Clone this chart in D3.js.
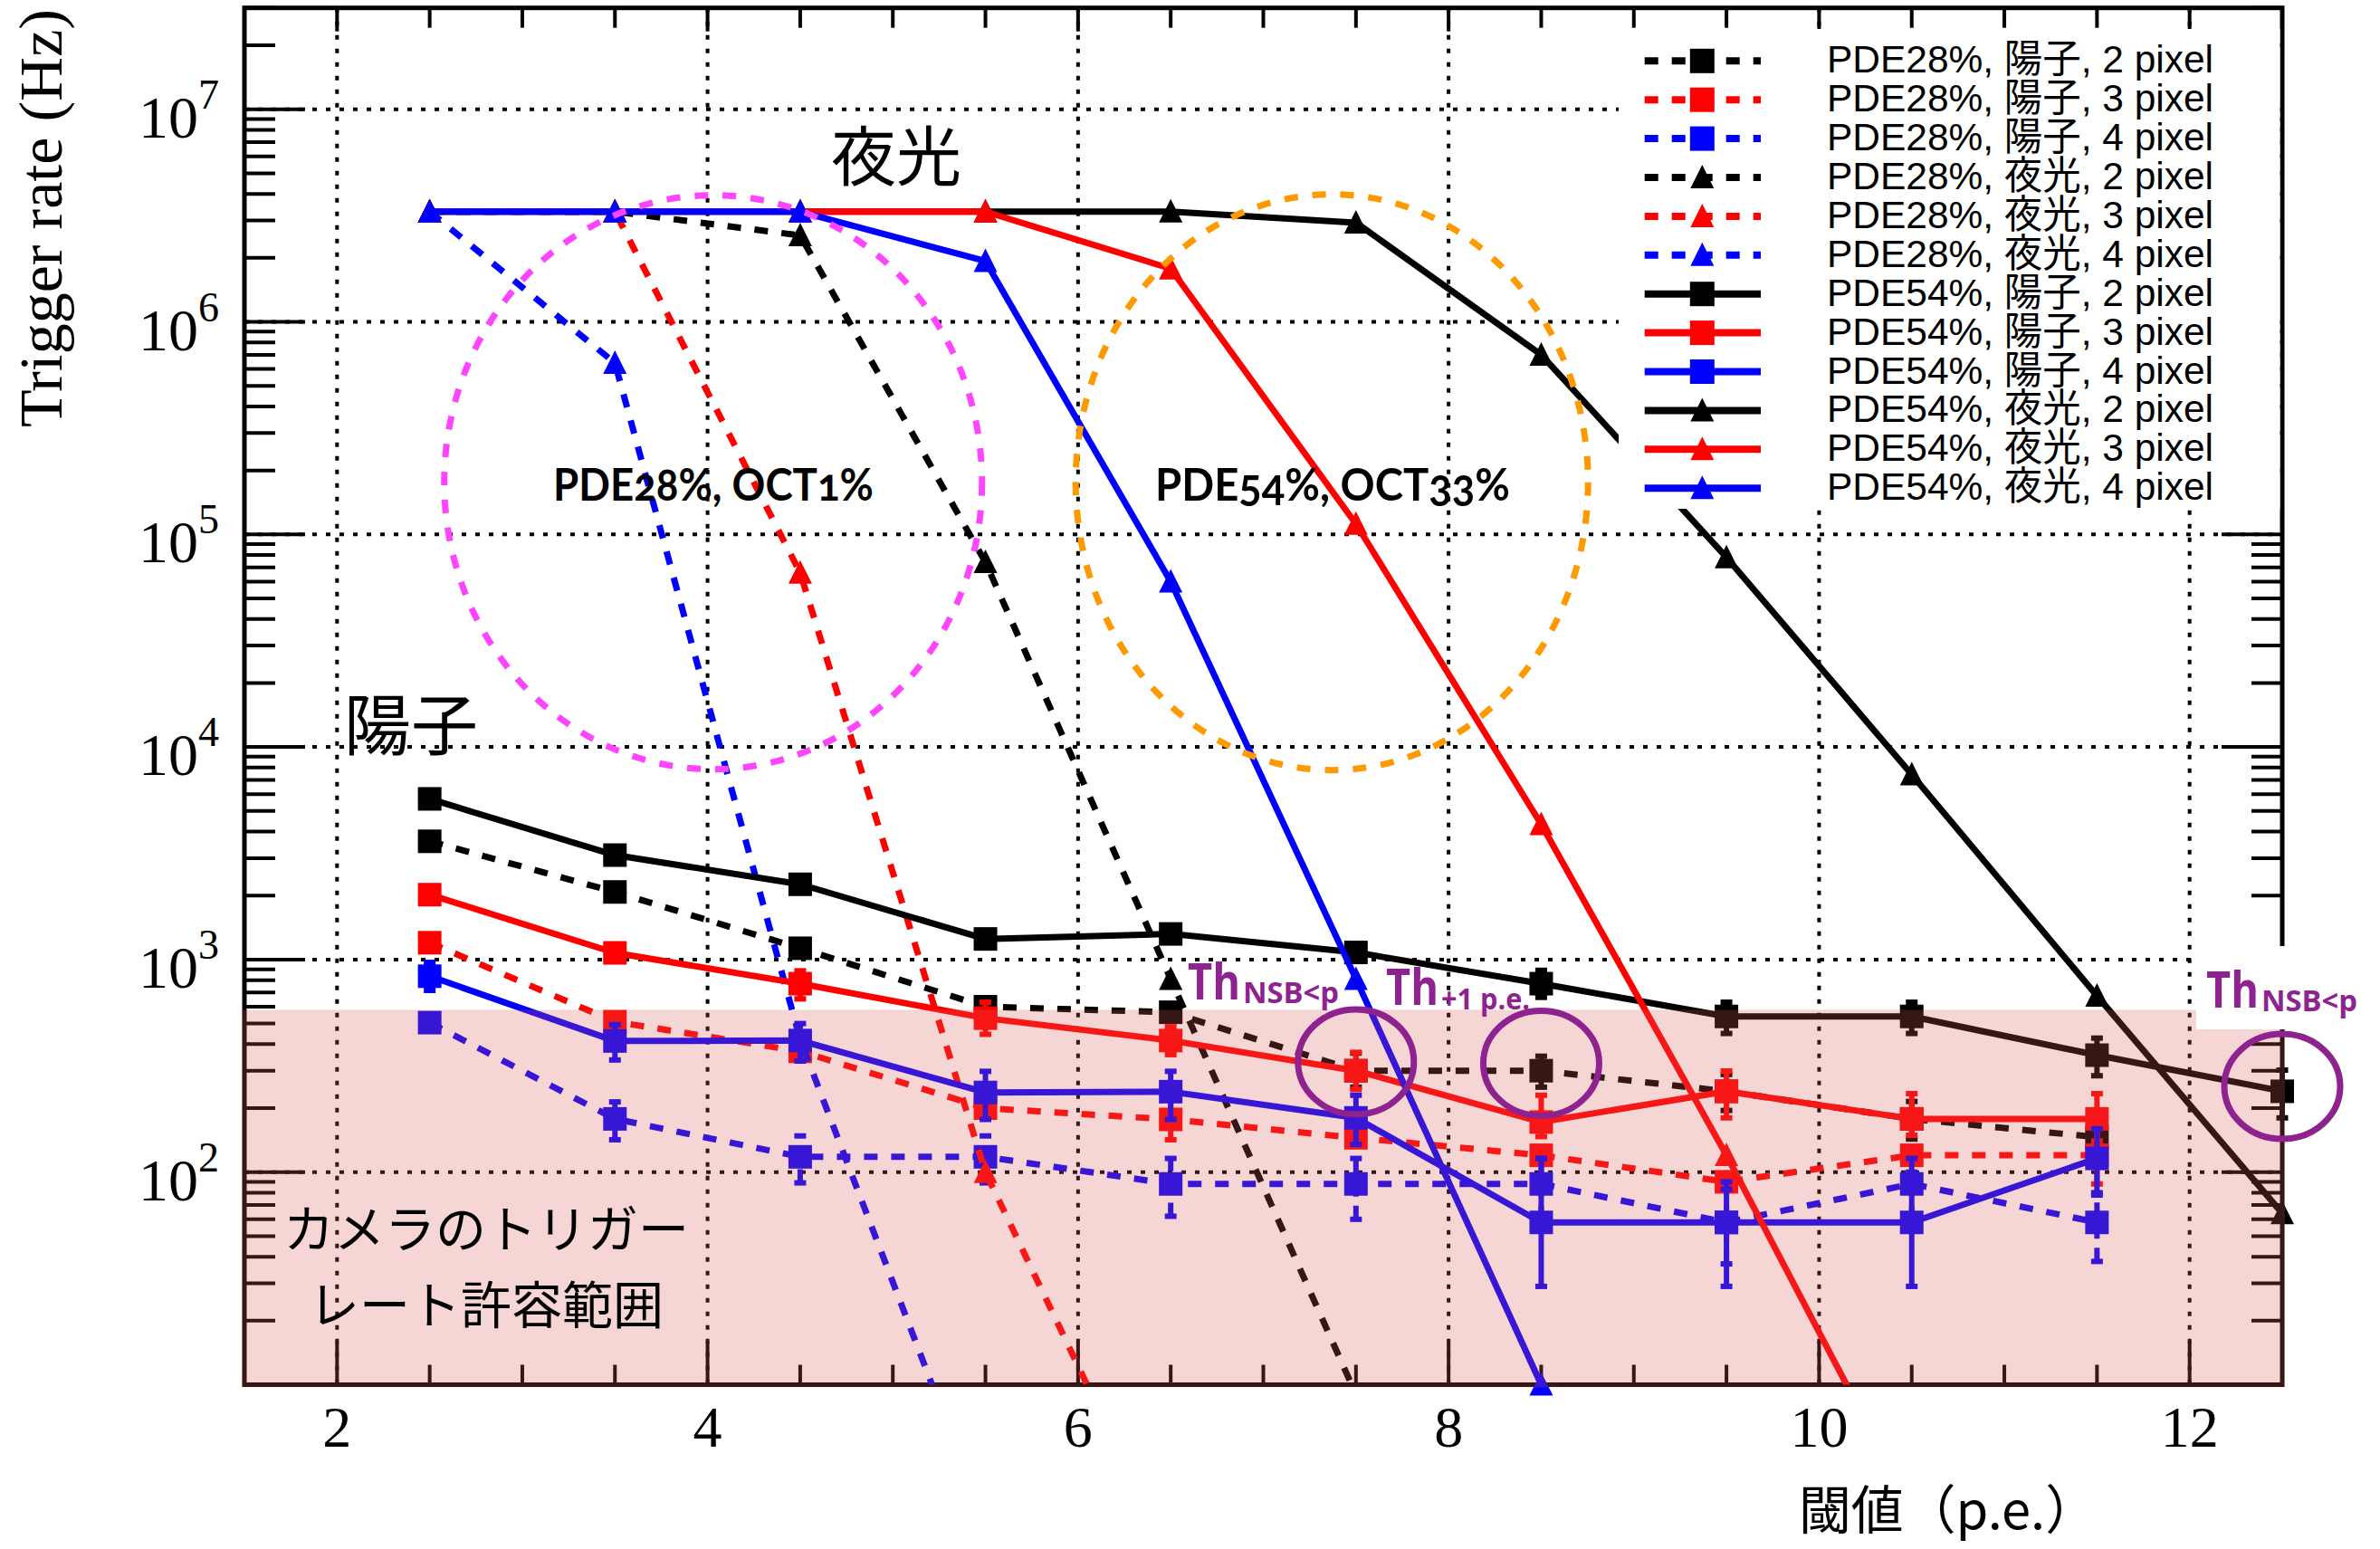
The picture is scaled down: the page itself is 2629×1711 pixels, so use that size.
<!DOCTYPE html>
<html>
<head>
<meta charset="utf-8">
<script src="https://cdn.jsdelivr.net/npm/d3@7"></script>
<style>
  html, body { margin: 0; padding: 0; background: #ffffff; }
</style>
</head>
<body>
<svg id="chart"></svg>
<script>
// Trigger rate vs threshold, proton (陽子) and night-sky background (夜光) curves

// threshold positions (p.e.)
const thresholds = [2.5, 3.5, 4.5, 5.5, 6.5, 7.5, 8.5, 9.5, 10.5, 11.5, 12.5];

// PDE28% curves (Hz), null = no point
const pde28Proton2 = [3600, 2080, 1130, 600, 565, 300, 300, 240, 178, 146, null];
const pde28Proton3 = [1200, 510, 370, 200, 177, 145, 120, 90, 120, 120, null];
const pde28Proton4 = [505, 178, 118, 118, 88, 88, 88, 58, 88, 58, null];
const pde28Nsb2 = [3.3e6, 3.3e6, 2.55e6, 7.4e4, 810, 9, null, null, null, null, null];
const pde28Nsb3 = [3.3e6, 3.3e6, 6.6e4, 100, 1.5, null, null, null, null, null, null];
const pde28Nsb4 = [3.3e6, 6.4e5, 420, 2.2, null, null, null, null, null, null, null];

// PDE54% curves (Hz)
const pde54Proton2 = [5700, 3100, 2260, 1250, 1320, 1080, 770, 540, 540, 355, 240];
const pde54Proton3 = [2020, 1075, 770, 530, 416, 300, 172, 240, 178, 178, null];
const pde54Proton4 = [835, 414, 416, 237, 239, 180, 58, 58, 58, 116, null];
const pde54Nsb2 = [3.3e6, 3.3e6, 3.3e6, 3.3e6, 3.3e6, 2.93e6, 7.0e5, 7.8e4, 7430, 675, 64];
const pde54Nsb3 = [3.3e6, 3.3e6, 3.3e6, 3.3e6, 1.78e6, 1.12e5, 4330, 120, 2.6, null, null];
const pde54Nsb4 = [3.3e6, 3.3e6, 3.3e6, 1.93e6, 6.0e4, 810, 10, null, null, null, null];

// error bar ends [low, high] for the proton curves (only where visible)
const pde28Proton2Err = [null, null, null, null, null, [251, 363], [251, 351], [195, 288], [143, 215], [116, 180], null];
const pde28Proton3Err = [null, null, null, null, [142, 222], null, null, null, null, [88, 160], null];
const pde28Proton4Err = [null, [142, 214], [89, 148], [89, 148], [62, 116], [60, 116], [60, 116], [37, 83], [60, 116], [38, 80], null];
const pde54Proton2Err = [null, null, null, null, null, null, [664, 890], [449, 630], [449, 630], [284, 427], [180, 302]];
const pde54Proton3Err = [null, null, [653, 885], [445, 630], [357, 483], [245, 366], [147, 230], [180, 299], [149, 234], [140, 234], null];
const pde54Proton4Err = [[716, 970], [337, 494], [333, 500], [177, 298], [177, 298], [135, 230], [29, 116], [29, 90], [29, 100], [78, 160], null];

// legend labels, in drawing order
const legendLabels = [
  "PDE28%, 陽子, 2 pixel", "PDE28%, 陽子, 3 pixel", "PDE28%, 陽子, 4 pixel",
  "PDE28%, 夜光, 2 pixel", "PDE28%, 夜光, 3 pixel", "PDE28%, 夜光, 4 pixel",
  "PDE54%, 陽子, 2 pixel", "PDE54%, 陽子, 3 pixel", "PDE54%, 陽子, 4 pixel",
  "PDE54%, 夜光, 2 pixel", "PDE54%, 夜光, 3 pixel", "PDE54%, 夜光, 4 pixel"
];

// axis ticks
const xMajorTicks = [2, 4, 6, 8, 10, 12];
const yMajorTicks = [1e2, 1e3, 1e4, 1e5, 1e6, 1e7];
const yExponents = ["2", "3", "4", "5", "6", "7"];

// acceptable camera trigger rate (upper edge of shaded band)
const bandTop = 580;

const seriesValues = [pde28Proton2, pde28Proton3, pde28Proton4, pde28Nsb2, pde28Nsb3, pde28Nsb4,
                      pde54Proton2, pde54Proton3, pde54Proton4, pde54Nsb2, pde54Nsb3, pde54Nsb4];
const seriesErrors = [pde28Proton2Err, pde28Proton3Err, pde28Proton4Err, null, null, null,
                      pde54Proton2Err, pde54Proton3Err, pde54Proton4Err, null, null, null];
const seriesColors = ["#000000", "#ff0000", "#0000ff", "#000000", "#ff0000", "#0000ff",
                      "#000000", "#ff0000", "#0000ff", "#000000", "#ff0000", "#0000ff"];
const seriesDashed = [true, true, true, true, true, true, false, false, false, false, false, false];
const seriesMarker = ["square", "square", "square", "tri", "tri", "tri", "square", "square", "square", "tri", "tri", "tri"];

// figure setup
const W = 2629, H = 1711;
const pLeft = 270, pRight = 2521, pTop = 8.7, pBottom = 1529.5;

const svg = d3.select("#chart").attr("width", W).attr("height", H);
svg.append("rect").attr("width", W).attr("height", H).attr("fill", "#ffffff");

const x = d3.scaleLinear().domain([1.5, 12.5]).range([pLeft, pRight]);
const y = d3.scaleLog().domain([10, 3e7]).range([pBottom, pTop]);

svg.append("defs").append("clipPath").attr("id", "plotClip")
  .append("rect").attr("x", pLeft).attr("y", pTop).attr("width", pRight - pLeft).attr("height", pBottom - pTop);

///// Grid /////
const grid = svg.append("g").attr("stroke", "#000").attr("stroke-width", 4).attr("stroke-dasharray", "5,10");
grid.selectAll(".vg").data(xMajorTicks).enter().append("line")
  .attr("x1", d => x(d)).attr("x2", d => x(d)).attr("y1", pTop).attr("y2", pBottom);
grid.selectAll(".hg").data(yMajorTicks).enter().append("line")
  .attr("x1", pLeft).attr("x2", pRight).attr("y1", d => y(d)).attr("y2", d => y(d));

///// Frame and ticks /////
const axes = svg.append("g").attr("stroke", "#000").attr("stroke-width", 4);
const xMinor = d3.range(2.5, 12.51, 0.5).filter(v => xMajorTicks.indexOf(v) < 0);
const yMinor = [];
for (let e = 1; e <= 7; e++) {
  for (let m = 2; m <= 9; m++) {
    const v = m * Math.pow(10, e);
    if (v <= 3e7) yMinor.push(v);
  }
}
// bottom and top
axes.selectAll(".bM").data(xMajorTicks).enter().append("line")
  .attr("x1", d => x(d)).attr("x2", d => x(d)).attr("y1", pBottom).attr("y2", pBottom - 48);
axes.selectAll(".bm").data(xMinor).enter().append("line")
  .attr("x1", d => x(d)).attr("x2", d => x(d)).attr("y1", pBottom).attr("y2", pBottom - 22);
axes.selectAll(".tM").data(xMajorTicks).enter().append("line")
  .attr("x1", d => x(d)).attr("x2", d => x(d)).attr("y1", pTop).attr("y2", pTop + 26);
axes.selectAll(".tm").data(xMinor).enter().append("line")
  .attr("x1", d => x(d)).attr("x2", d => x(d)).attr("y1", pTop).attr("y2", pTop + 22);
// left and right
axes.selectAll(".lM").data(yMajorTicks).enter().append("line")
  .attr("x1", pLeft).attr("x2", pLeft + 67).attr("y1", d => y(d)).attr("y2", d => y(d));
axes.selectAll(".lm").data(yMinor).enter().append("line")
  .attr("x1", pLeft).attr("x2", pLeft + 34).attr("y1", d => y(d)).attr("y2", d => y(d));
axes.selectAll(".rM").data(yMajorTicks).enter().append("line")
  .attr("x1", pRight).attr("x2", pRight - 67).attr("y1", d => y(d)).attr("y2", d => y(d));
axes.selectAll(".rm").data(yMinor).enter().append("line")
  .attr("x1", pRight).attr("x2", pRight - 34).attr("y1", d => y(d)).attr("y2", d => y(d));
svg.append("rect").attr("x", pLeft).attr("y", pTop).attr("width", pRight - pLeft).attr("height", pBottom - pTop)
  .attr("fill", "none").attr("stroke", "#000").attr("stroke-width", 5);

///// Tick labels and titles /////
svg.selectAll(".xl").data(xMajorTicks).enter().append("text")
  .attr("x", d => x(d)).attr("y", 1598)
  .attr("text-anchor", "middle")
  .style("font-family", "'Liberation Serif', 'DejaVu Serif', serif")
  .style("font-size", "64px")
  .text(d => d);

yMajorTicks.forEach((v, i) => {
  const t = svg.append("text")
    .attr("x", 242).attr("y", y(v) + 31)
    .attr("text-anchor", "end")
    .style("font-family", "'Liberation Serif', 'DejaVu Serif', serif")
    .style("font-size", "66px");
  t.append("tspan").text("10");
  t.append("tspan").attr("dy", -32).style("font-size", "46px").text(yExponents[i]);
});

svg.append("text")
  .attr("transform", "translate(68,10) rotate(-90)")
  .attr("text-anchor", "end")
  .style("font-family", "'Liberation Serif', 'DejaVu Serif', serif")
  .style("font-size", "68px")
  .text("Trigger rate (Hz)");

svg.append("text")
  .attr("x", 1987).attr("y", 1689)
  .attr("textLength", 330).attr("lengthAdjust", "spacingAndGlyphs")
  .style("font-family", "'Noto Sans CJK JP', sans-serif")
  .style("font-size", "58px")
  .text("閾値（p.e.）");

///// Curves /////
const line = d3.line()
  .defined(d => d.v != null)
  .x(d => x(d.t))
  .y(d => y(d.v));

const triPath = "M0,-14L13,12L-13,12Z";

seriesValues.forEach((vals, s) => {
  const color = seriesColors[s];
  const pts = thresholds.map((t, i) => ({t: t, v: vals[i], err: seriesErrors[s] ? seriesErrors[s][i] : null}));
  const g = svg.append("g");

  g.append("path")
    .datum(pts.filter(p => p.v != null))
    .attr("clip-path", "url(#plotClip)")
    .attr("d", line)
    .attr("fill", "none")
    .attr("stroke", color)
    .attr("stroke-width", 7)
    .attr("stroke-linejoin", "round")
    .attr("stroke-dasharray", seriesDashed[s] ? "15,15" : null);

  // error bars
  const eb = pts.filter(p => p.v != null && p.err);
  g.selectAll(".bar").data(eb).enter().append("line")
    .attr("x1", d => x(d.t)).attr("x2", d => x(d.t))
    .attr("y1", d => y(d.err[0])).attr("y2", d => y(d.err[1]))
    .attr("stroke", color).attr("stroke-width", 6)
    .attr("stroke-dasharray", seriesDashed[s] ? "15,10" : null);
  eb.forEach(d => {
    d.err.forEach(e => {
      g.append("rect")
        .attr("x", x(d.t) - 6.5).attr("y", y(e) - 3)
        .attr("width", 13).attr("height", 6)
        .attr("fill", color);
    });
  });

  // markers, only those inside the y range
  const mk = pts.filter(p => p.v != null && p.v >= 10);
  if (seriesMarker[s] === "square") {
    g.selectAll(".sq").data(mk).enter().append("rect")
      .attr("x", d => x(d.t) - 13).attr("y", d => y(d.v) - 13)
      .attr("width", 26).attr("height", 26)
      .attr("fill", color);
  } else {
    g.selectAll(".tr").data(mk).enter().append("path")
      .attr("d", triPath)
      .attr("transform", d => "translate(" + x(d.t) + "," + y(d.v) + ")")
      .attr("fill", color);
  }
});

///// Legend /////
const legend = svg.append("g");
legend.append("rect").attr("x", 1788).attr("y", 32).attr("width", 2518.5 - 1788).attr("height", 562 - 32).attr("fill", "#ffffff");
legendLabels.forEach((lab, i) => {
  const cy = 67.3 + 42.9 * i;
  legend.append("line")
    .attr("x1", 1816.7).attr("x2", 1945).attr("y1", cy).attr("y2", cy)
    .attr("stroke", seriesColors[i]).attr("stroke-width", 8)
    .attr("stroke-dasharray", seriesDashed[i] ? "15,15" : null);
  if (seriesMarker[i] === "square") {
    legend.append("rect").attr("x", 1880.3 - 13.5).attr("y", cy - 13.5)
      .attr("width", 27).attr("height", 27).attr("fill", seriesColors[i]);
  } else {
    legend.append("path").attr("d", triPath)
      .attr("transform", "translate(1880.3," + cy + ")").attr("fill", seriesColors[i]);
  }
  legend.append("text")
    .attr("x", 2018).attr("y", cy + 13)
    .attr("textLength", 427).attr("lengthAdjust", "spacingAndGlyphs")
    .style("font-family", "'Liberation Sans', 'Noto Sans CJK JP', sans-serif")
    .style("font-size", "43px")
    .text(lab);
});

///// Shaded band of acceptable trigger rate (drawn over the curves) /////
svg.append("rect")
  .attr("x", pLeft - 3).attr("y", y(bandTop))
  .attr("width", pRight - pLeft + 6).attr("height", pBottom + 3 - y(bandTop))
  .attr("fill", "rgb(220,92,88)").attr("fill-opacity", 0.25);
// white box behind the right-hand label
svg.append("rect").attr("x", 2426).attr("y", 1045).attr("width", W - 2426).attr("height", 92).attr("fill", "#ffffff");

///// Annotations /////
const cjk = "'Noto Sans CJK JP', sans-serif";

// dashed circles round the two detector settings
svg.append("ellipse")
  .attr("cx", x(4.03)).attr("cy", y(1.76e5)).attr("rx", 297).attr("ry", 317)
  .attr("fill", "none").attr("stroke", "#ff44ff").attr("stroke-width", 7).attr("stroke-dasharray", "15,16");
svg.append("ellipse")
  .attr("cx", x(7.37)).attr("cy", y(1.76e5)).attr("rx", 283).attr("ry", 318)
  .attr("fill", "none").attr("stroke", "#ff9900").attr("stroke-width", 7).attr("stroke-dasharray", "15,16");

svg.append("text").attr("x", 611).attr("y", 553)
  .attr("textLength", 354).attr("lengthAdjust", "spacingAndGlyphs")
  .style("font-family", "Lato, 'Open Sans', sans-serif").style("font-weight", "bold")
  .style("font-size", "50px").style("font-variant-numeric", "oldstyle-nums")
  .text("PDE28%, OCT1%");
svg.append("text").attr("x", 1276).attr("y", 553)
  .attr("textLength", 392).attr("lengthAdjust", "spacingAndGlyphs")
  .style("font-family", "Lato, 'Open Sans', sans-serif").style("font-weight", "bold")
  .style("font-size", "50px").style("font-variant-numeric", "oldstyle-nums")
  .text("PDE54%, OCT33%");

svg.append("text").attr("x", 918).attr("y", 199)
  .style("font-family", cjk).style("font-size", "72px").text("夜光");
svg.append("text").attr("x", 380).attr("y", 828)
  .style("font-family", cjk).style("font-size", "74px").text("陽子");

svg.append("text").attr("x", 537).attr("y", 1378).attr("text-anchor", "middle")
  .style("font-family", cjk).style("font-size", "56px").text("カメラのトリガー");
svg.append("text").attr("x", 537).attr("y", 1462).attr("text-anchor", "middle")
  .style("font-family", cjk).style("font-size", "56px").text("レート許容範囲");

// purple circles on the chosen thresholds
const purple = "#8e228e";
[[7.5, 330], [8.5, 325], [12.5, 253]].forEach(c => {
  svg.append("ellipse")
    .attr("cx", x(c[0])).attr("cy", y(c[1])).attr("rx", 64).attr("ry", 58)
    .attr("fill", "none").attr("stroke", purple).attr("stroke-width", 7);
});

const thLabels = [
  {x: 1312, y: 1104, len: 58, sx: 1373, sy: 1108, slen: 106, sub: "NSB<p"},
  {x: 1531, y: 1110, len: 58, sx: 1592, sy: 1115, slen: 98, sub: "+1 p.e."},
  {x: 2437, y: 1113, len: 58, sx: 2498, sy: 1117, slen: 106, sub: "NSB<p"}
];
thLabels.forEach(l => {
  svg.append("text").attr("x", l.x).attr("y", l.y)
    .attr("textLength", l.len).attr("lengthAdjust", "spacingAndGlyphs")
    .style("font-family", "'Open Sans', sans-serif").style("font-weight", 700)
    .style("font-size", "56px").attr("fill", purple).text("Th");
  svg.append("text").attr("x", l.sx).attr("y", l.sy)
    .attr("textLength", l.slen).attr("lengthAdjust", "spacingAndGlyphs")
    .style("font-family", "'Open Sans', sans-serif").style("font-weight", 700)
    .style("font-size", "33px").attr("fill", purple).text(l.sub);
});
</script>
</body>
</html>
